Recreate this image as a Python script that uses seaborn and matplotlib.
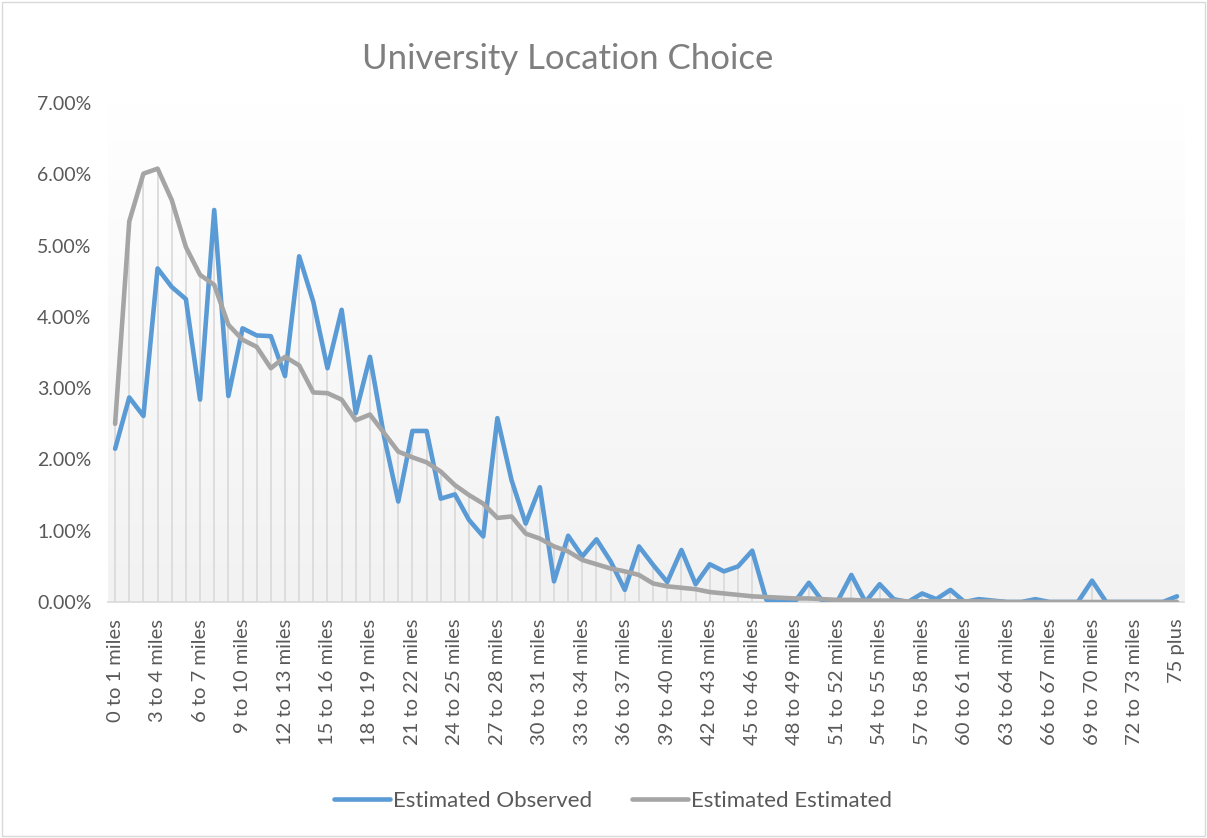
import numpy as np
import pandas as pd
import matplotlib
matplotlib.use("Agg")
import matplotlib.pyplot as plt
import seaborn as sns
from matplotlib.lines import Line2D
from matplotlib.patches import Rectangle

# distance bands
categories = ["%d to %d miles" % (i, i + 1) for i in range(75)] + ["75 plus"]

# percent of students
observed = [2.15, 2.87, 2.61, 4.68, 4.42, 4.25, 2.84, 5.50, 2.89, 3.84,
            3.74, 3.73, 3.17, 4.85, 4.21, 3.28, 4.10, 2.65, 3.44, 2.32,
            1.41, 2.40, 2.40, 1.45, 1.51, 1.15, 0.92, 2.58, 1.71, 1.10,
            1.61, 0.29, 0.93, 0.64, 0.88, 0.57, 0.17, 0.78, 0.52, 0.28,
            0.73, 0.25, 0.53, 0.43, 0.50, 0.72, 0.03, 0.00, 0.00, 0.27,
            0.00, 0.00, 0.38, 0.00, 0.25, 0.04, 0.00, 0.12, 0.04, 0.17,
            0.00, 0.04, 0.02, 0.00, 0.00, 0.04, 0.00, 0.00, 0.00, 0.30,
            0.00, 0.00, 0.00, 0.00, 0.00, 0.08]
estimated = [2.50, 5.34, 6.01, 6.08, 5.64, 4.98, 4.59, 4.45, 3.89, 3.68,
             3.58, 3.28, 3.44, 3.32, 2.94, 2.93, 2.84, 2.55, 2.63, 2.37,
             2.11, 2.03, 1.96, 1.83, 1.64, 1.50, 1.38, 1.18, 1.20, 0.96,
             0.89, 0.78, 0.71, 0.59, 0.53, 0.47, 0.43, 0.38, 0.26, 0.22,
             0.20, 0.18, 0.14, 0.12, 0.10, 0.08, 0.07, 0.06, 0.05, 0.05,
             0.04, 0.03, 0.03, 0.02, 0.02, 0.02, 0.01, 0.01, 0.01, 0.01,
             0.01, 0.01, 0.01, 0.00, 0.00, 0.00, 0.00, 0.00, 0.00, 0.00,
             0.00, 0.00, 0.00, 0.00, 0.00, 0.00]
series_names = ["Estimated Observed", "Estimated Estimated"]
colors = ["#5B9BD5", "#A5A5A5"]

idx = np.arange(len(categories))
df = pd.DataFrame({
    "idx": np.concatenate([idx, idx]),
    "value": observed + estimated,
    "series": [series_names[0]] * len(idx) + [series_names[1]] * len(idx),
})

sns.set_theme(style="white")
plt.rcParams["font.family"] = ["Lato", "DejaVu Sans"]
text_col = "#595959"

fig = plt.figure(figsize=(12.07, 8.38), dpi=100)
ax = fig.add_axes([0.0895, 0.2816, 0.8915, 0.5954])

# plot area gradient
grad = np.linspace(1, 0, 256).reshape(-1, 1)
ax.imshow(grad, extent=[0, 1, 0, 1], transform=ax.transAxes, aspect="auto",
          cmap=matplotlib.colors.LinearSegmentedColormap.from_list("g", ["#f2f2f2", "#ffffff"]),
          zorder=0)

# drop lines
tops = np.maximum(observed, estimated)
ax.vlines(idx, 0, tops, color="#d9d9d9", lw=1.2, zorder=1)

sns.lineplot(data=df, x="idx", y="value", hue="series", palette=colors,
             linewidth=3.3, ax=ax, legend=False, zorder=3)
for l in ax.lines:
    l.set_solid_capstyle("round")
    l.set_solid_joinstyle("round")

ax.set_xlim(-0.5, len(idx) - 0.5)
ax.set_ylim(0, 7)
ax.set_yticks(np.arange(0, 8, 1))
ax.set_yticklabels(["%.2f%%" % v for v in range(8)], fontsize=14, color=text_col)
ax.set_xticks(idx[::3])
ax.set_xticklabels(categories[::3], rotation=90, fontsize=14.5, color=text_col)
ax.tick_params(axis="both", length=0)
ax.tick_params(axis="x", pad=12)
ax.tick_params(axis="y", pad=12)
ax.set_xlabel("")
ax.set_ylabel("")
for s in ["top", "right", "left"]:
    ax.spines[s].set_visible(False)
ax.spines["bottom"].set_color("#d9d9d9")
ax.spines["bottom"].set_linewidth(1.2)

fig.text(0.47, 0.93, "University Location Choice", ha="center", va="center",
         fontsize=25, color="#7f7f7f")

handles = [Line2D([0], [0], color=c, lw=3.3, solid_capstyle="round") for c in colors]
fig.legend(handles, series_names, loc="center", bbox_to_anchor=(0.508, 0.044),
           ncol=2, frameon=False, fontsize=16, labelcolor=text_col,
           handlelength=2.5, handletextpad=0.15, columnspacing=1.8)

# chart border
fig.patches.append(Rectangle((0.002, 0.002), 0.996, 0.996, transform=fig.transFigure,
                             fill=False, edgecolor="#d9d9d9", lw=1))

plt.savefig("out.png", dpi=100)
